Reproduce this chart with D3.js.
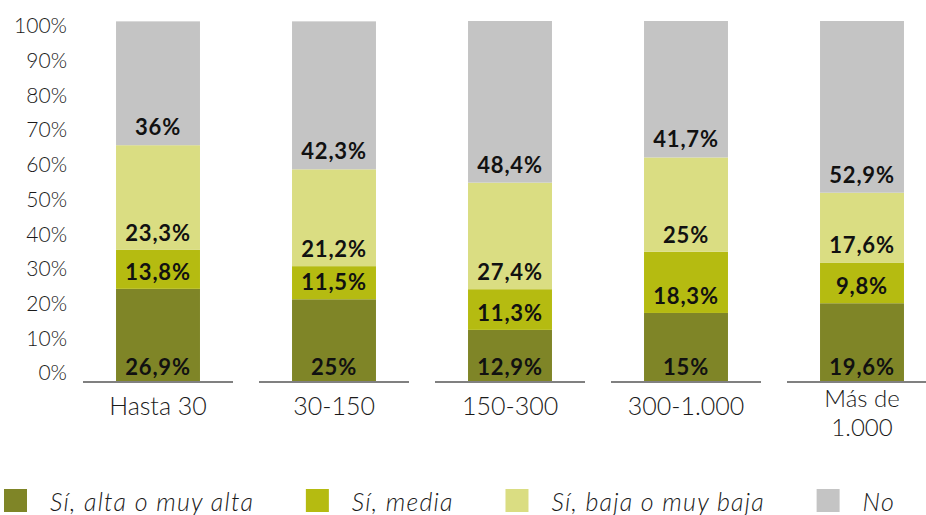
<!DOCTYPE html>
<html lang="es">
<head>
<meta charset="utf-8">
<title>Grado de uso por tamaño</title>
<style>
  body { margin: 0; background: #fff; }
  svg { display: block; font-family: Lato, "Noto Sans", sans-serif; }
  .tick-label { font-size: 21px; font-weight: 300; fill: #1a1a1a; }
  .cat-label { font-size: 25px; font-weight: 300; fill: #1a1a1a; }
  .cat-label.two { font-size: 24px; }
  .val-label { font-size: 22px; font-weight: 700; fill: #111; letter-spacing: 0.8px; }
  .legend-label { font-size: 25px; font-style: italic; font-weight: 300; fill: #1a1a1a; letter-spacing: 1.2px; }
</style>
</head>
<body>
<svg width="926" height="515"></svg>
<script src="https://cdn.jsdelivr.net/npm/d3@7/dist/d3.min.js"></script>
<script>

var categories = ["Hasta 30", "30-150", "150-300", "300-1.000", "Más de 1.000"];
var seriesNames = ["Sí, alta o muy alta", "Sí, media", "Sí, baja o muy baja", "No"];

// bar heights as drawn (%)
var alta  = [25.6, 22.7, 14.2, 18.9, 21.6];
var media = [10.9,  9.2, 11.3, 17.0, 11.3];
var baja  = [29.0, 26.9, 29.6, 26.2, 19.4];
var no    = [34.4, 41.1, 44.9, 37.9, 47.7];

// values printed on the bars (%)
var altaLbl  = [26.9, 25, 12.9, 15, 19.6];
var mediaLbl = [13.8, 11.5, 11.3, 18.3, 9.8];
var bajaLbl  = [23.3, 21.2, 27.4, 25, 17.6];
var noLbl    = [36, 42.3, 48.4, 41.7, 52.9];

var yTicks = [0, 10, 20, 30, 40, 50, 60, 70, 80, 90, 100];

var colors = ["#7f8527", "#b5bb11", "#dadd82", "#c4c4c4"];

var svg = d3.select("svg");

var x = d3.scaleBand()
    .domain(categories)
    .range([70, 950])
    .paddingInner(0.523)
    .paddingOuter(0.2615);

var y = d3.scaleLinear().domain([0, 100]).range([381, 21]);
// the tick labels sit on a slightly tighter scale than the bars
var yLab = d3.scaleLinear().domain([0, 100]).range([372.8, 25.8]);

var table = categories.map(function(c, i) {
  return { cat: c, alta: alta[i], media: media[i], baja: baja[i], no: no[i] };
});
var labels = [altaLbl, mediaLbl, bajaLbl, noLbl];
var keys = ["alta", "media", "baja", "no"];

var stack = d3.stack().keys(keys)(table);

function fmt(v) { return String(v).replace(".", ",") + "%"; }

// y tick labels
svg.append("g").selectAll("text")
  .data(yTicks)
  .enter().append("text")
    .attr("class", "tick-label")
    .attr("x", 67)
    .attr("y", function(d) { return yLab(d); })
    .attr("dy", "0.36em")
    .attr("text-anchor", "end")
    .text(function(d) { return d + "%"; });

// bars
var layer = svg.append("g").selectAll("g")
  .data(stack)
  .enter().append("g")
    .attr("fill", function(d, i) { return colors[i]; });

layer.selectAll("rect")
  .data(function(d) { return d; })
  .enter().append("rect")
    .attr("x", function(d) { return x(d.data.cat); })
    .attr("width", x.bandwidth())
    .attr("y", function(d) { return y(d[1]); })
    .attr("height", function(d) { return y(d[0]) - y(d[1]); });

// value labels, placed near the base of each segment
var offs = [14, 17, 17, 18];
stack.forEach(function(s, k) {
  svg.append("g").selectAll("text")
    .data(s)
    .enter().append("text")
      .attr("class", "val-label")
      .attr("x", function(d) { return x(d.data.cat) + x.bandwidth() / 2; })
      .attr("y", function(d) { return y(d[0]) - offs[k]; })
      .attr("dy", "0.36em")
      .attr("text-anchor", "middle")
      .text(function(d, i) { return fmt(labels[k][i]); });
});

// axis line, broken per category
svg.append("g").selectAll("line")
  .data(categories)
  .enter().append("line")
    .attr("x1", function(d) { return x(d) + x.bandwidth() / 2 - 75; })
    .attr("x2", function(d) { return x(d) + x.bandwidth() / 2 + 75; })
    .attr("y1", 382)
    .attr("y2", 382)
    .attr("stroke", "#808080")
    .attr("stroke-width", 2);

// category labels
var catText = svg.append("g").selectAll("text")
  .data(categories)
  .enter().append("text")
    .attr("class", function(d) { return d === "Más de 1.000" ? "cat-label two" : "cat-label"; })
    .attr("text-anchor", "middle")
    .attr("transform", function(d) { return "translate(" + (x(d) + x.bandwidth() / 2) + ",0)"; });

catText.each(function(d) {
  var t = d3.select(this);
  var lines = d === "Más de 1.000" ? ["Más de", "1.000"] : [d];
  lines.forEach(function(l, i) {
    t.append("tspan")
      .attr("x", 0)
      .attr("y", (lines.length > 1 ? 406.5 : 415) + i * 29)
      .text(l);
  });
});

// legend
var leg = svg.append("g");
var items = leg.selectAll("g")
  .data(seriesNames)
  .enter().append("g");

items.append("rect")
  .attr("width", 23)
  .attr("height", 23)
  .attr("y", 489)
  .attr("fill", function(d, i) { return colors[i]; });

items.append("text")
  .attr("class", "legend-label")
  .attr("x", 46)
  .attr("y", 510.5)
  .text(function(d) { return d; });

var widths = [];
items.select("text").each(function() { widths.push(46 + this.getComputedTextLength()); });
var total = d3.sum(widths);
var gap = (895 - 4 - total) / (seriesNames.length - 1);
var pos = 4;
items.attr("transform", function(d, i) {
  var p = pos;
  pos += widths[i] + gap;
  return "translate(" + p + ",0)";
});

</script>
</body>
</html>
